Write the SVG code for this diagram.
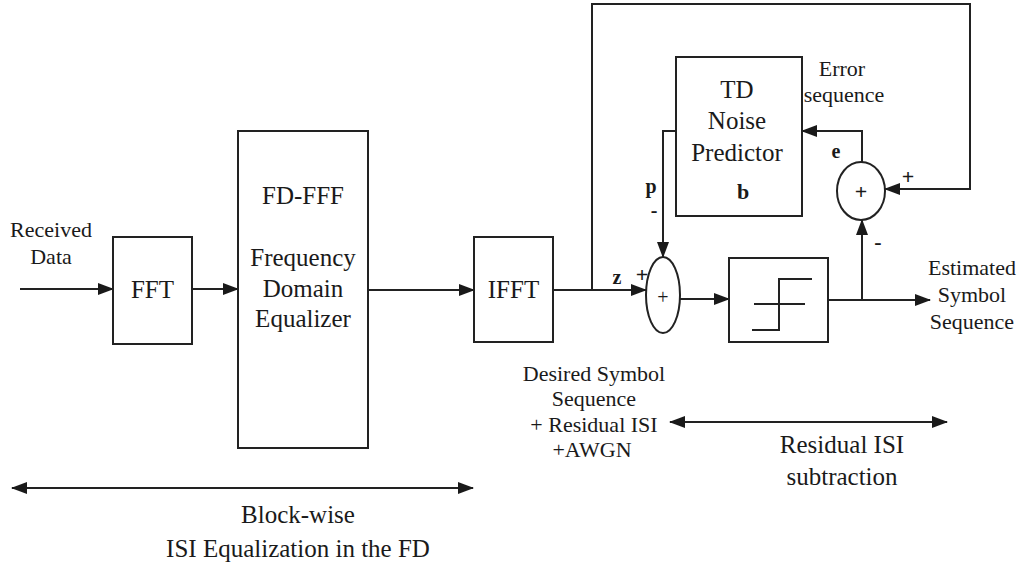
<svg xmlns="http://www.w3.org/2000/svg" width="1022" height="568" viewBox="0 0 1022 568">
<defs>
<marker id="ah" markerUnits="userSpaceOnUse" markerWidth="16" markerHeight="12" viewBox="0 0 16 12" refX="15" refY="6" orient="auto"><path d="M0,0 L16,6 L0,12 Z" fill="#1a1a1a"/></marker>
<marker id="ahs" markerUnits="userSpaceOnUse" markerWidth="16" markerHeight="12" viewBox="0 0 16 12" refX="1" refY="6" orient="auto"><path d="M16,0 L0,6 L16,12 Z" fill="#1a1a1a"/></marker>
<style>
.box{fill:#fff;stroke:#222;stroke-width:2}
.ln{fill:none;stroke:#222;stroke-width:2}
.t{font-family:"Liberation Serif","Times New Roman",serif;fill:#1a1a1a;text-anchor:middle}
.big{font-size:25px}
.sm{font-size:22px}
.b{font-weight:bold}
</style>
</defs>
<rect width="1022" height="568" fill="#fff"/>
<g id="connectors">
<path class="ln" d="M20,289 H113" marker-end="url(#ah)"/>
<path class="ln" d="M192,289 H238" marker-end="url(#ah)"/>
<path class="ln" d="M368,290 H474" marker-end="url(#ah)"/>
<path class="ln" d="M553,290 H646" marker-end="url(#ah)"/>
<path class="ln" d="M680,299 H729" marker-end="url(#ah)"/>
<path class="ln" d="M828,300 H930" marker-end="url(#ah)"/>
<path class="ln" d="M862,300 V220" marker-end="url(#ah)"/>
<path class="ln" d="M862,162 V131 H802" marker-end="url(#ah)"/>
<path class="ln" d="M676,131 H663 V257" marker-end="url(#ah)"/>
<path class="ln" d="M592,290 V4 H970 V189 H885" marker-end="url(#ah)"/>
<path class="ln" d="M670,422 H947" marker-start="url(#ahs)" marker-end="url(#ah)"/>
<path class="ln" d="M12,488 H473" marker-start="url(#ahs)" marker-end="url(#ah)"/>
</g>
<g id="fft">
<rect class="box" x="113" y="237" width="79" height="107"/>
<text class="t big" x="152.5" y="298">FFT</text>
</g>
<g id="fdfff">
<rect class="box" x="238" y="131" width="130" height="317"/>
<text class="t big" x="303" y="204">FD-FFF</text>
<text class="t big" x="303" y="266">Frequency</text>
<text class="t big" x="303" y="297">Domain</text>
<text class="t big" x="303" y="327">Equalizer</text>
</g>
<g id="ifft">
<rect class="box" x="474" y="237" width="79" height="105"/>
<text class="t big" x="513.5" y="298">IFFT</text>
</g>
<g id="sum1">
<ellipse class="box" cx="663" cy="295" rx="17" ry="38"/>
<text class="t" style="font-size:20px" x="663" y="304">+</text>
</g>
<g id="decision">
<rect class="box" x="729" y="258" width="99" height="84"/>
<path class="ln" d="M812,279 H779 V330 H752 M754,304 H805"/>
</g>
<g id="predictor">
<rect class="box" x="676" y="57" width="126" height="159"/>
<text class="t big" x="737" y="98">TD</text>
<text class="t big" x="737" y="129">Noise</text>
<text class="t big" x="737" y="161">Predictor</text>
<text class="t big b" x="743" y="199" style="font-size:22px">b</text>
</g>
<g id="sum2">
<ellipse class="box" cx="861" cy="191" rx="24" ry="29"/>
<text class="t b" style="font-size:22px" x="861" y="199">+</text>
</g>
<g id="labels">
<text class="t sm" x="51" y="237">Received</text>
<text class="t sm" x="51" y="264">Data</text>
<text class="t sm" x="842" y="76">Error</text>
<text class="t sm" x="844" y="102">sequence</text>
<text class="t b" style="font-size:20px" x="836" y="158">e</text>
<text class="t b" style="font-size:22px" x="908" y="184">+</text>
<text class="t b" style="font-size:22px" x="878" y="249">-</text>
<text class="t b" style="font-size:20px" x="651" y="193">p</text>
<text class="t b" style="font-size:20px" x="654" y="217">-</text>
<text class="t b" style="font-size:20px" x="617" y="284">z</text>
<text class="t b" style="font-size:22px" x="642" y="282">+</text>
<text class="t sm" x="972" y="275">Estimated</text>
<text class="t sm" x="972" y="302">Symbol</text>
<text class="t sm" x="972" y="329">Sequence</text>
<text class="t sm" x="594" y="381">Desired Symbol</text>
<text class="t sm" x="594" y="406">Sequence</text>
<text class="t sm" x="594" y="432">+ Residual ISI</text>
<text class="t sm" x="592" y="457">+AWGN</text>
<text class="t big" x="842" y="453">Residual ISI</text>
<text class="t big" x="842" y="485">subtraction</text>
<text class="t big" x="298" y="523">Block-wise</text>
<text class="t big" x="298" y="557">ISI Equalization in the FD</text>
</g>
</svg>
